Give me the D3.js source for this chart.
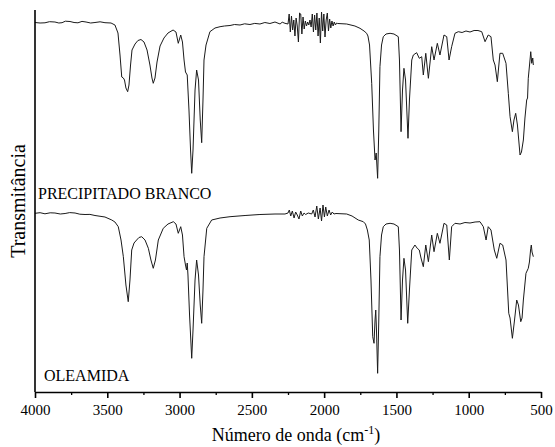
<!DOCTYPE html>
<html><head><meta charset="utf-8">
<script src="https://cdn.jsdelivr.net/npm/d3@7"></script>
<style>
html,body{margin:0;padding:0;background:#fff;}
svg{display:block;}
text{font-family:"Liberation Serif","Times New Roman",serif;fill:#000;}
</style></head>
<body>
<script>
// Wavenumbers (cm-1) and transmittance (arbitrary units, offset traces)
const precipWn = [4000,3965,3931,3900,3862,3835,3813,3790,3758,3730,3703,3675,3647,3615,3585,3550,3516,3474,3447,3426,3412,3400,3389,3381,3371,3359,3350,3339,3329,3308,3288,3267,3246,3225,3205,3191,3182,3170,3156,3135,3108,3080,3045,3025,3009,2992,2980,2969,2959,2947,2935,2924,2916,2907,2893,2882,2869,2857,2847,2838,2831,2817,2790,2755,2720,2690,2651,2620,2582,2550,2513,2480,2444,2410,2375,2340,2305,2290,2271,
2250,2242,2234,2226,2218,2210,2202,2194,2186,2178,2170,2162,2154,2146,2138,2130,2122,2114,2106,2098,2090,2082,2074,2066,2058,2050,2042,2034,2026,2018,2010,2002,1994,1986,1978,1970,1962,1954,1946,1938,1930,1922,1914,1906,
1844,1787,1752,1724,1706,1697,1686,1671,1659,1648,1640,1630,1622,1614,1603,1591,1572,1544,1517,1487,1479,1468,1458,1448,1437,1420,1410,1394,1383,1360,1342,1325,1314,1297,1279,1256,1240,1217,1199,1171,1152,1136,1118,1095,1072,1046,1019,991,963,936,910,887,865,846,830,818,802,784,765,742,726,714,698,687,675,663,645,635,622,611,599,593,588,576,571,564,557,553];
const precipT = [369.5,369,369.2,370.3,370,369,369.3,370.8,370.5,369.5,369.2,370.6,370,369,369.5,370.2,369.3,369,367,359,337,315,314,312,304,300.3,307,327,342,348,351.5,352.5,350,342,327,314,308.7,314,330,346,354,359,362,360,348.7,357,350,332,320,317,282,242,218.7,242,302,322,312,272,249.3,292,332,347,360.3,364,365.3,366,366.5,367.5,367,368.2,367.5,368.6,368,369.5,368.5,370,368,369.8,368.7,
368,378,360,376,362,372,356,374,366,350,379,378,358,375,363,371,366,370,367,372,365,378,360,377,362,379,356,374,349,380,361,378,355,372,379,361,373,364,371,366,370,367,369,368.5,
368,366,363.7,361,358.7,356,347,308.7,262,232,239,213.7,262,325.3,347,355.3,358,358.7,358,355.3,332,260.3,302,323.7,312,253.7,292,332,337,339.3,333.7,335.3,317,338.7,313.7,345.3,332,348.7,337,357,355.3,332,345.3,358.7,360.3,359.5,361,360,361.5,361.5,360.3,350.3,357,355.3,332,327,310.3,338.7,338.7,328.7,298.7,275.3,260.3,272,278.7,267,237,240,252,274,292,294,313.7,332,340.3,328.7,334,327];

const oleaWn = [4000,3965,3931,3895,3862,3825,3792,3760,3723,3690,3654,3620,3585,3516,3469,3447,3424,3405,3389,3371,3355,3343,3331,3315,3297,3281,3262,3239,3216,3198,3182,3167,3147,3113,3080,3043,3025,3009,2992,2980,2969,2959,2952,2947,2942,2931,2916,2907,2893,2882,2869,2857,2847,2838,2831,2812,2778,2720,2651,2547,2444,2340,2271,
2250,2241,2231,2220,2208,2197,2186,2174,2162,2151,2139,2128,2110,2086,2075,2063,2051,2040,2028,2018,2008,1998,1989,1978,1966,1955,1944,1932,1918,
1844,1807,1764,1729,1714,1701,1688,1676,1664,1655,1648,1643,1638,1630,1622,1614,1603,1591,1572,1544,1517,1487,1479,1468,1458,1448,1437,1422,1410,1394,1372,1356,1342,1330,1314,1297,1279,1256,1240,1217,1199,1171,1152,1134,1118,1095,1060,1026,991,956,922,899,880,865,846,823,806,784,765,742,723,714,698,683,668,656,640,631,622,604,588,580,571,567,562,553];
const oleaT = [178.7,179.3,178.2,179.2,179,178,178.5,179.4,179,177.8,177.5,177.6,176.5,175,172,170,165.3,152,135.3,107,90.3,112,142,149,152,154.5,155.3,152,143.7,132,123.7,132,152,163.7,168,170.3,168,158.7,165.3,157,135.3,127,122,129,117,77,33.7,62,112,132,117,87,68.7,102,135.3,163.7,172,174,175.3,176.5,177.5,178,178,
179,182,176,181,174,180,177,173,181,176,179,177.5,179,178,182,175,186,173,184,171,187,175,185,176,182,177,180,178,178.5,
178,176,172,170.3,168,162,152,112,55.3,48.7,72,82,62,18.7,72,135.3,157,165.3,168,168.7,168,165.3,142,72,112,133.7,122,68.7,102,142,147,143.7,142,134,125.3,147,130.3,157,140.3,158.7,148.7,168.7,167,132,165.3,168.7,168,169.5,169,170,170.3,165.3,152,165.3,162,142,133.7,148.7,147,132,78.7,74,53.7,72,92,87,70.3,74,92,118.7,123.7,130,143.7,147,140,135.3];

const xTickValues = [4000,3500,3000,2500,2000,1500,1000,500];
const xMinorValues = [3750,3250,2750,2250,1750,1250,750];
const xDomain = [4000,500];
const yDomain = [0,382];
const seriesLabels = ["PRECIPITADO BRANCO","OLEAMIDA"];

const W = 555, H = 447;
const svg = d3.select("body").append("svg").attr("width",W).attr("height",H);
const x = d3.scaleLinear().domain(xDomain).range([35,541]);
const y = d3.scaleLinear().domain(yDomain).range([392,10]);

const line = d3.line().x(d => x(d[0])).y(d => y(d[1]));
const series = [
  d3.zip(precipWn, precipT),
  d3.zip(oleaWn, oleaT)
];
svg.selectAll("path.trace").data(series).enter().append("path")
  .attr("class","trace")
  .attr("d", line)
  .attr("fill","none")
  .attr("stroke","#1a1a1a")
  .attr("stroke-width",1)
  .attr("stroke-linejoin","round");

// minor ticks
const minorAxis = d3.axisBottom(x).tickValues(xMinorValues).tickSize(3).tickFormat("").tickSizeOuter(0);
const gMinor = svg.append("g").attr("transform",`translate(0,${y(0)})`).call(minorAxis);
gMinor.select(".domain").remove();
gMinor.selectAll("line").attr("stroke","#000").attr("stroke-width",1.3);

const xAxis = d3.axisBottom(x).tickValues(xTickValues).tickSize(6).tickPadding(6).tickSizeOuter(0)
  .tickFormat(d3.format("d"));
const gx = svg.append("g").attr("transform",`translate(0,${y(0)})`).call(xAxis);
gx.select(".domain").attr("stroke","#000").attr("stroke-width",1.6);
gx.selectAll(".tick line").attr("stroke","#000").attr("stroke-width",1.6);
gx.selectAll(".tick text").attr("font-size",15).attr("fill","#000");

// left axis line
svg.append("line").attr("x1",x(4000)).attr("x2",x(4000)).attr("y1",y(0)).attr("y2",y(382))
  .attr("stroke","#000").attr("stroke-width",1.6);

// series labels
svg.append("text").attr("x",38).attr("y",199).attr("font-size",16).text(seriesLabels[0]);
svg.append("text").attr("x",44).attr("y",381).attr("font-size",16).text(seriesLabels[1]);

// axis titles
const xt = svg.append("text").attr("x",296).attr("y",441).attr("text-anchor","middle").attr("font-size",18);
xt.append("tspan").text("Número de onda (cm");
xt.append("tspan").attr("font-size",12).attr("dy",-7).text("-1");
xt.append("tspan").attr("dy",7).text(")");

svg.append("text").attr("transform","translate(25,201) rotate(-90)").attr("text-anchor","middle")
  .attr("font-size",20).text("Transmitância");
</script>
</body></html>
